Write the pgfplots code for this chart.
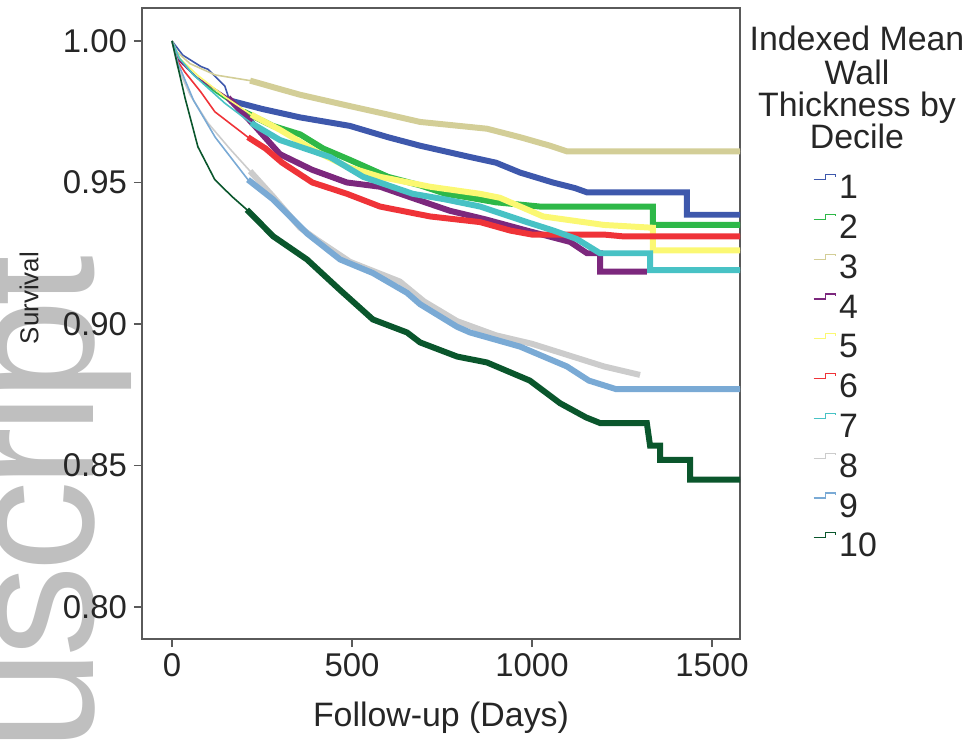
\documentclass[border=0pt]{standalone}
\usepackage{fontspec}
\setmainfont{Liberation Sans}
\newfontfamily\wmfont[LetterSpace=-4]{Liberation Sans}
\usepackage{pgfplots}
\usepackage{pgfplotstable}
\pgfplotsset{compat=1.18}

\definecolor{c1}{HTML}{3E58AC}
\definecolor{c2}{HTML}{2EB848}
\definecolor{c3}{HTML}{D3CE97}
\definecolor{c4}{HTML}{7C287D}
\definecolor{c5}{HTML}{FBF873}
\definecolor{c6}{HTML}{EF3338}
\definecolor{c7}{HTML}{48C2C5}
\definecolor{c8}{HTML}{CCCCCC}
\definecolor{c9}{HTML}{7AAAD5}
\definecolor{c10}{HTML}{0A562C}
\definecolor{frame}{HTML}{5A5A5A}

\pgfplotstableread{
d s
0 1.000
30 0.995
80 0.991
100 0.990
147 0.984
160 0.979
250 0.976
356 0.973
494 0.970
600 0.966
689 0.963
828 0.959
900 0.957
967 0.9535
1058 0.950
1120 0.948
1153 0.9465
1430 0.9465
1430 0.9386
1578 0.9386
}\tA

\pgfplotstableread{
d s
0 1.000
20 0.994
60 0.988
120 0.982
200 0.975
280 0.970
356 0.967
420 0.962
494 0.958
600 0.952
689 0.949
760 0.946
828 0.9446
900 0.943
1022 0.9415
1336 0.9415
1336 0.935
1578 0.935
}\tB

\pgfplotstableread{
d s
0 1.000
15 0.996
50 0.992
120 0.988
217 0.986
300 0.983
356 0.981
494 0.977
600 0.974
689 0.9714
875 0.969
967 0.966
1050 0.963
1097 0.961
1578 0.961
}\tC

\pgfplotstableread{
d s
0 1.000
20 0.993
70 0.987
156 0.980
230 0.970
300 0.960
389 0.9545
486 0.950
578 0.9485
680 0.944
772 0.940
870 0.937
986 0.933
1106 0.929
1153 0.925
1189 0.925
1189 0.9185
1319 0.9185
}\tD

\pgfplotstableread{
d s
0 1.000
20 0.994
70 0.988
150 0.980
220 0.974
300 0.9686
400 0.961
486 0.9556
578 0.952
717 0.9485
856 0.946
911 0.9446
1031 0.938
1200 0.935
1336 0.934
1336 0.926
1578 0.926
}\tE

\pgfplotstableread{
d s
0 1.000
15 0.993
36 0.989
80 0.982
119 0.975
211 0.966
260 0.962
306 0.957
390 0.950
486 0.946
578 0.9415
717 0.938
856 0.936
940 0.933
1000 0.9316
1200 0.9316
1250 0.931
1578 0.931
}\tF

\pgfplotstableread{
d s
0 1.000
20 0.994
60 0.988
147 0.978
220 0.971
300 0.965
439 0.959
531 0.952
600 0.949
669 0.946
760 0.944
856 0.9415
986 0.936
1060 0.933
1125 0.930
1189 0.925
1328 0.925
1328 0.919
1578 0.919
}\tG

\pgfplotstableread{
d s
0 1.000
15 0.991
50 0.981
100 0.971
160 0.962
217 0.954
281 0.945
356 0.934
400 0.930
494 0.922
633 0.915
700 0.908
792 0.901
900 0.896
1000 0.893
1100 0.889
1200 0.885
1300 0.882
}\tH

\pgfplotstableread{
d s
0 1.000
17 0.992
60 0.979
120 0.966
211 0.951
281 0.944
375 0.932
467 0.9228
558 0.918
653 0.911
689 0.907
792 0.899
828 0.897
967 0.892
1097 0.885
1158 0.880
1233 0.877
1578 0.877
}\tI

\pgfplotstableread{
d s
0 1.000
36 0.980
72 0.9626
119 0.951
167 0.945
208 0.9404
281 0.931
375 0.9228
467 0.912
558 0.9016
653 0.897
689 0.8935
792 0.8885
875 0.8864
994 0.880
1078 0.872
1150 0.867
1189 0.865
1319 0.865
1328 0.857
1356 0.857
1356 0.852
1439 0.852
1439 0.845
1578 0.845
}\tJ

\newcommand\km[4]{%
  \addplot[#2, line width=0.8pt, forget plot] table[x=d,y=s] {#1};
  \addplot[#2, line width=3pt, restrict x to domain=#3:1700] table[x=d,y=s] {#1};
  \addlegendentry{#4}
}

\begin{document}
\begin{tikzpicture}
% watermark
\node[rotate=90, anchor=base west, inner sep=0pt, text=black!25,
      font=\wmfont\fontsize{92}{92}\selectfont] at (-24.5bp,-56.5bp) {uscript};
\begin{axis}[
  at={(0,0)}, anchor=south west,
  scale only axis, width=299bp, height=315.5bp,
  xmin=-83.3, xmax=1577.8, ymin=0.78869, ymax=1.01166,
  axis line style={frame, line width=0.8pt},
  xtick={0,500,1000,1500}, ytick={0.80,0.85,0.90,0.95,1.00},
  tick align=outside, tick pos=left,
  major tick length=4bp,
  tick style={frame, line width=0.8pt},
  /pgf/number format/assume math mode=true,
  xticklabel style={font=\fontsize{16.5}{16.5}\selectfont, text=black!85, /pgf/number format/1000 sep={}},
  yticklabel style={font=\fontsize{16.5}{16.5}\selectfont, text=black!85, /pgf/number format/.cd, fixed, fixed zerofill, precision=2},
  legend style={at={(1,1)}, anchor=north west, xshift=36.5bp, yshift=-83bp,
    draw=none, fill=none, inner sep=0pt, outer sep=0pt, row sep=7.5bp,
    column sep=1.5bp,
    font=\fontsize{17}{17}\selectfont,
    nodes={inner sep=0pt, text height=12.2bp, text depth=0pt, text=black!85}},
  legend cell align=left,
  legend image code/.code={\draw[#1, line width=0.6pt] (0bp,3.5bp) -- (6bp,3.5bp) -- (6bp,6bp) -- (11bp,6bp) -- (11bp,5bp);},
]
\km{\tA}{c1}{150}{1}
\km{\tB}{c2}{190}{2}
\km{\tC}{c3}{200}{3}
\km{\tD}{c4}{150}{4}
\km{\tE}{c5}{200}{5}
\km{\tF}{c6}{200}{6}
\km{\tG}{c7}{200}{7}
\km{\tH}{c8}{210}{8}
\km{\tI}{c9}{210}{9}
\km{\tJ}{c10}{200}{10}
\end{axis}
\node[rotate=90, font=\fontsize{13}{13}\selectfont, text=black!85] at (-56.5bp,170.5bp) {Survival};
\node[font=\fontsize{17}{17}\selectfont, text=black!85] at (149.5bp,-39.5bp) {Follow-up (Days)};
\begin{scope}[every node/.style={anchor=base, inner sep=0pt, font=\fontsize{17}{17}\selectfont, text=black!85}]
\node at (357.5bp,294.4bp) {Indexed Mean};
\node at (357.5bp,277.4bp) {Wall};
\node at (357.5bp,261.4bp) {Thickness by};
\node at (357.5bp,245bp) {Decile};
\end{scope}
\pgfresetboundingbox
\path[use as bounding box] (-71bp,-55.5bp) rectangle (415.5bp,319.5bp);
\end{tikzpicture}
\end{document}
